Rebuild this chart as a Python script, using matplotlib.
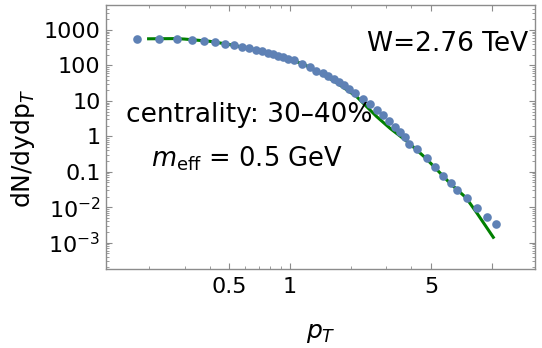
import matplotlib
matplotlib.use("Agg")
import matplotlib.pyplot as plt
from matplotlib.ticker import FixedLocator, NullFormatter

# measured spectrum (blue points)
pt_data = [0.175, 0.225, 0.275, 0.325, 0.375, 0.425, 0.475, 0.525, 0.575, 0.625,
           0.675, 0.725, 0.775, 0.825, 0.875, 0.925, 0.975, 1.05, 1.15, 1.25,
           1.35, 1.45, 1.55, 1.65, 1.75, 1.85, 1.95, 2.1, 2.3, 2.5,
           2.7, 2.9, 3.1, 3.3, 3.5, 3.7, 3.9, 4.25, 4.75, 5.25,
           5.75, 6.25, 6.75, 7.5, 8.5, 9.5, 10.5]
yield_data = [547, 568, 568, 532, 499, 459, 411, 370, 338, 311,
              278, 251, 224, 206, 188, 173, 155, 140, 110, 88.7,
              71.1, 60.1, 50.4, 40.6, 33.5, 27.6, 22.1, 17.0, 11.5, 8.02,
              5.54, 3.92, 2.76, 1.87, 1.33, 0.94, 0.608, 0.454, 0.240, 0.134,
              0.0776, 0.0474, 0.0307, 0.0186, 0.0097, 0.0054, 0.0033]

# model curve (green)
pt_fit = [0.199, 0.27, 0.3, 0.4, 0.5, 0.65, 0.8, 1.0, 1.2, 1.356,
          1.652, 2.142, 2.69, 3.13, 3.85, 4.72, 6.215, 7.458, 8.46, 10.18]
yield_fit = [565, 572, 555, 480, 390, 290, 215, 152, 100, 70,
             36.4, 13.1, 3.6, 1.69, 0.68, 0.24, 0.0474, 0.0186, 0.00675, 0.00142]

x_major = [0.5, 1, 5, 10]
x_labels = ["0.5", "1", "5", ""]
x_minor = [0.2, 0.3, 0.4, 0.6, 0.7, 0.8, 0.9, 2, 3, 4]
y_major = [1e-3, 1e-2, 0.1, 1, 10, 100, 1000]
y_labels = [r"10$^{-3}$", r"10$^{-2}$", "0.1", "1", "10", "100", "1000"]

frame_col = "#8c8c8c"

fig = plt.figure(figsize=(5.42, 3.48), dpi=100)
ax = fig.add_axes([0.1956, 0.227, 0.7915, 0.7586])

ax.plot(pt_fit, yield_fit, color="#008000", lw=2.2, zorder=2)
ax.plot(pt_data, yield_data, "o", color="#5e81b5", ms=6.2, mec="none", zorder=3)

ax.set_xscale("log")
ax.set_yscale("log")
ax.set_xlim(0.1224, 16.39)
ax.set_ylim(1.81e-4, 5070)

ax.xaxis.set_major_locator(FixedLocator(x_major))
ax.set_xticklabels(x_labels)
ax.xaxis.set_minor_locator(FixedLocator(x_minor))
ax.xaxis.set_minor_formatter(NullFormatter())
ax.yaxis.set_major_locator(FixedLocator(y_major))
ax.set_yticklabels(y_labels)
minors = [m * 10.0 ** e for e in range(-4, 4) for m in range(2, 10)]
ax.yaxis.set_minor_locator(FixedLocator(minors))
ax.yaxis.set_minor_formatter(NullFormatter())

for s in ax.spines.values():
    s.set_color(frame_col)
    s.set_linewidth(1.0)
ax.tick_params(which="both", direction="in", top=True, right=True,
               color=frame_col, labelsize=16, labelcolor="black")
ax.tick_params(which="major", length=4, width=0.8)
ax.tick_params(which="minor", length=2, width=0.6)
ax.tick_params(axis="x", pad=6)
ax.tick_params(axis="y", pad=4)

ax.set_ylabel(r"dN/dydp$_{T}$", fontsize=18)
ax.yaxis.set_label_coords(-0.161, 0.458)
ax.set_xlabel(r"$p_T$", fontsize=18)
ax.xaxis.set_label_coords(0.5, -0.261)
ax.xaxis.label.set_va("baseline")

ax.text(0.9837, 0.827, "W=2.76 TeV", transform=ax.transAxes, fontsize=19,
        ha="right", va="baseline")
ax.text(0.333, 0.5557, "centrality: 30\u201340%", transform=ax.transAxes,
        fontsize=19, ha="center", va="baseline")
ax.text(0.329, 0.3875, r"$m_{\mathrm{eff}}$ = 0.5 GeV", transform=ax.transAxes,
        fontsize=18.5, ha="center", va="baseline")

fig.savefig("out.png", dpi=100)
